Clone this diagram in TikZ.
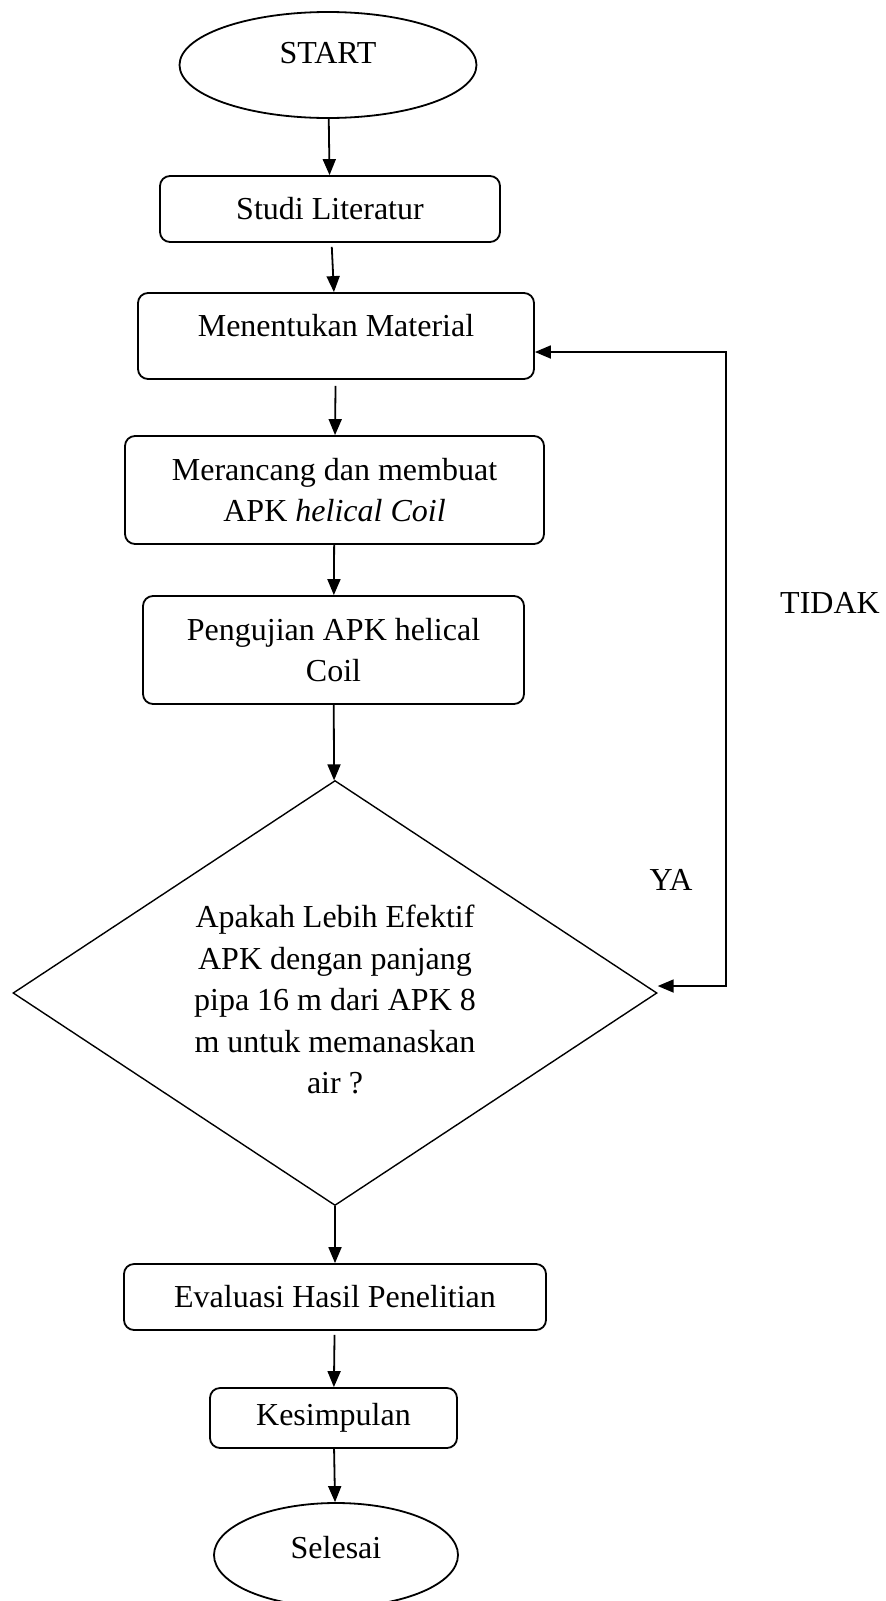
\documentclass[tikz,border=0pt]{standalone}
\usepackage{fontspec}
\setmainfont{Liberation Serif}
\usepackage{xcolor}
\usepackage{tikz}
\usetikzlibrary{calc,shapes.geometric,arrows.meta}

\tikzset{
  proses/.style={draw,rounded corners=5pt,line width=0.9pt,inner sep=0pt,align=center},
  terminal/.style={draw,ellipse,line width=0.9pt,inner sep=0pt},
  keputusan/.style={draw,diamond,shape aspect=1.515,line width=0.7pt,inner sep=0pt,align=center},
  panah/.style={-{Triangle[length=8pt,width=6.5pt]},line width=0.9pt},
  panahdua/.style={{Triangle[length=8pt,width=6.5pt]}-{Triangle[length=8pt,width=6.5pt]},line width=0.9pt}
}

\begin{document}
\begin{tikzpicture}[x=0.5pt,y=-0.5pt,font=\fontsize{16pt}{20.75pt}\selectfont]

\useasboundingbox (0,0) rectangle (886,1601);
\clip (0,0) rectangle (886,1601);

\node[terminal,minimum width=148.5pt,minimum height=53pt](start) at (328,65){\raisebox{12pt}{START}};
\node[proses,minimum width=170pt,minimum height=33pt](studi) at (330,209){Studi Literatur};
\node[proses,minimum width=198pt,minimum height=43pt](material) at (336,336){\raisebox{11pt}{Menentukan Material}};
\node[proses,minimum width=209.5pt,minimum height=54pt](rancang) at (334.5,490){Merancang dan membuat\\APK \textit{helical Coil}};
\node[proses,minimum width=190.5pt,minimum height=54pt](uji) at (333.5,650){Pengujian APK helical\\Coil};
\node[keputusan,minimum width=322pt,minimum height=212.5pt](efektif) at (335,993){\rule{0pt}{18pt}Apakah Lebih Efektif\\APK dengan panjang\\pipa 16 m dari APK 8\\m untuk memanaskan\\air ?};
\node[proses,minimum width=211pt,minimum height=33pt](evaluasi) at (335,1297){Evaluasi Hasil Penelitian};
\node[proses,minimum width=123.5pt,minimum height=30pt](simpul) at (333.5,1418){Kesimpulan};
\node[terminal,minimum width=122pt,minimum height=52pt](selesai) at (336,1555){\raisebox{8pt}{Selesai}};

\node(tidak) at (830,603){TIDAK};
\node(ya) at (671,880){YA};

\coordinate (balikatas) at (726,352);
\coordinate (balikbawah) at (726,986);

\draw[panah](start)--(studi);
\draw[panah,shorten <=2pt](studi)--(material);
\draw[panah,shorten <=3pt](material)--(rancang);
\draw[panah](rancang)--(uji);
\draw[panah](uji)--(efektif);
\draw[panah](efektif)--(evaluasi);
\draw[panah,shorten <=2pt](evaluasi)--(simpul);
\draw[panah](simpul)--(selesai);
\draw[panahdua](material.east |- balikatas)--(balikatas)--(balikbawah)--(efektif.east |- balikbawah);

\end{tikzpicture}
\end{document}
